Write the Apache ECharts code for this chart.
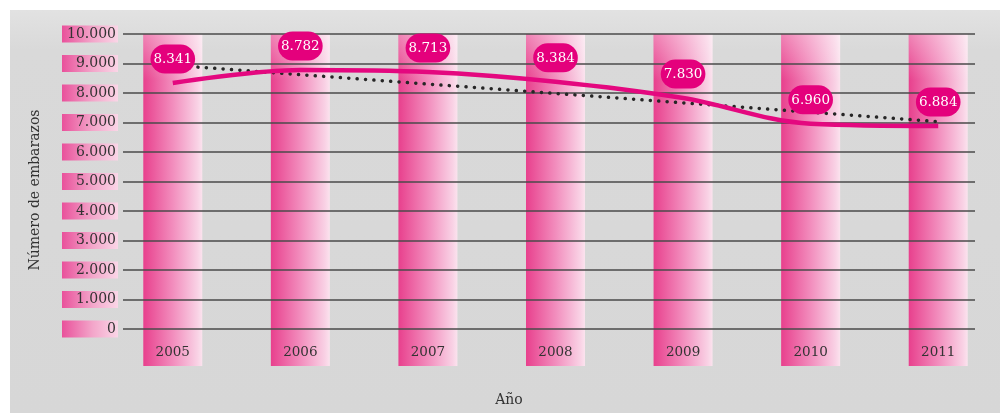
<!DOCTYPE html>
<html><head><meta charset="utf-8">
<script src="https://cdn.jsdelivr.net/npm/echarts@6/dist/echarts.min.js"></script>
<style>html,body{margin:0;padding:0;background:#fff}#c{width:1004px;height:413px}</style>
</head><body><div id="c"></div>
<script>
const years = ['2005','2006','2007','2008','2009','2010','2011'];
const embarazos = [8341, 8782, 8713, 8384, 7830, 6960, 6884];
const trendEnds = [[0, 8940], [6, 7030]];
const columnTop = [10000, 10000, 10000, 10000, 10000, 10000, 10000];
const yTicks = [0, 1000, 2000, 3000, 4000, 5000, 6000, 7000, 8000, 9000, 10000];

const fmt = v => v === 0 ? '0' : String(v).replace(/\B(?=(\d{3})+(?!\d))/g, '.');
const LG = echarts.graphic.LinearGradient;
const font = 'DejaVu Serif';
const chart = echarts.init(document.getElementById('c'), null, {renderer: 'canvas'});
chart.setOption({
  animation: false,
  backgroundColor: '#ffffff',
  graphic: [
    {type: 'rect', z: -10, shape: {x: 10, y: 10, width: 990, height: 403},
     style: {fill: new LG(0, 0, 0, 1, [{offset: 0, color: '#e2e2e2'}, {offset: 0.1, color: '#d9d9d9'}, {offset: 1, color: '#d7d7d7'}])}},
    {type: 'text', x: 35, y: 190, rotation: Math.PI / 2,
     style: {text: 'Número de embarazos', fill: '#333', font: '14px "DejaVu Serif"', align: 'center', verticalAlign: 'middle'}},
    {type: 'text', x: 509, y: 400,
     style: {text: 'Año', fill: '#333', font: '14px "DejaVu Serif"', align: 'center', verticalAlign: 'middle'}}
  ],
  grid: [
    {left: 109, right: 2, top: 34, bottom: 47},
    {left: 109, right: 2, top: 34, bottom: 84},
    {left: 123, right: 29, top: 34, bottom: 84}
  ],
  xAxis: [
    {gridIndex: 0, type: 'category', data: years, z: 4, axisLine: {show: false}, axisTick: {show: false},
     axisLabel: {inside: true, margin: 7, color: '#333', fontFamily: font, fontSize: 13.5}},
    {gridIndex: 1, type: 'category', data: years, show: false},
    {gridIndex: 2, type: 'value', show: false, min: 0, max: 1}
  ],
  yAxis: [
    {gridIndex: 0, type: 'value', min: 0, max: 10000, show: false},
    {gridIndex: 1, type: 'value', min: 0, max: 10000, show: false},
    {gridIndex: 2, type: 'value', min: 0, max: 10000, interval: 1000, z: 3,
     axisLine: {show: false}, axisTick: {show: false},
     splitLine: {show: true, lineStyle: {color: '#4a4a4a', width: 1.6}},
     axisLabel: {margin: 5, width: 51, align: 'right', padding: [1, 2, 1, 3],
       color: '#333', fontFamily: font, fontSize: 14, lineHeight: 15,
       formatter: v => yTicks.includes(v) ? fmt(v) : '',
       backgroundColor: new LG(0, 0, 1, 0, [{offset: 0, color: '#e9519b'}, {offset: 0.55, color: '#f3a6ca'}, {offset: 1, color: '#fad6e7'}])}}
  ],
  series: [
    {type: 'bar', xAxisIndex: 0, yAxisIndex: 0, data: columnTop, barWidth: 59, silent: true,
     itemStyle: {color: new LG(0, 0, 1, 0, [{offset: 0, color: '#e8408d'}, {offset: 0.5, color: '#f28dbd'}, {offset: 0.92, color: '#f9d2e5'}, {offset: 1, color: '#fbe3ee'}])}},
    {type: 'bar', xAxisIndex: 0, yAxisIndex: 0, data: columnTop, barWidth: 59, barGap: '-100%', silent: true, z: 2,
     itemStyle: {color: new LG(0, 0, 0, 1, [{offset: 0, color: 'rgba(255,255,255,0.35)'}, {offset: 0.14, color: 'rgba(255,255,255,0)'}, {offset: 1, color: 'rgba(255,255,255,0)'}])}},
    {type: 'line', xAxisIndex: 1, yAxisIndex: 1, data: embarazos, smooth: 0.35,
     symbol: 'circle', symbolSize: 1, showSymbol: true, itemStyle: {color: 'rgba(0,0,0,0)'}, z: 5,
     lineStyle: {color: '#e4087f', width: 4.5},
     label: {show: true, position: 'top', distance: 9, formatter: p => fmt(p.value),
       color: '#fff', fontFamily: font, fontSize: 13.5, backgroundColor: '#e4007c',
       borderRadius: 16, padding: [8, 3, 7, 3]},
     labelLayout: {hideOverlap: false}},
    {type: 'line', xAxisIndex: 1, yAxisIndex: 1, data: trendEnds, symbol: 'none', z: 4,
     lineStyle: {color: '#262626', width: 3.5, type: [0.1, 8.3], cap: 'round'}}
  ]
});
</script></body></html>
